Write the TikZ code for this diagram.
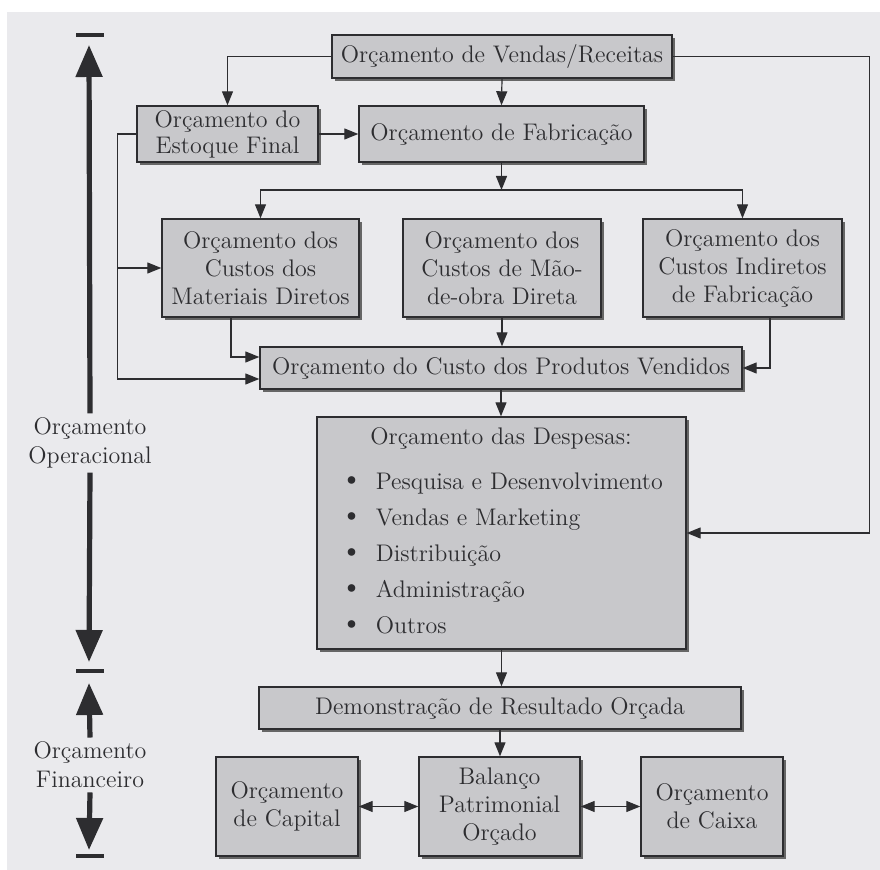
\documentclass[tikz,border=0pt]{standalone}
\usepackage{tikz}
\usetikzlibrary{arrows.meta, positioning, calc, shadows}
\definecolor{pagefill}{RGB}{234,234,237}
\definecolor{blockfill}{RGB}{200,200,203}
\definecolor{inkgray}{RGB}{45,45,48}
\newcommand{\despbullet}{{\fontsize{17}{17}\selectfont\textbullet}\hspace{6pt}}
\tikzset{
    block/.style={
        rectangle, draw=inkgray, line width=0.7pt, fill=blockfill,
        text=inkgray, align=center, inner sep=0pt,
        font=\fontsize{12}{14}\selectfont,
        drop shadow={shadow xshift=1.6pt, shadow yshift=-1.6pt, fill=black!60, opacity=1}
    },
    connection/.style={draw=inkgray, line width=0.6pt, -{Triangle[length=7pt, width=5.5pt]}},
    twoway/.style={connection, {Triangle[length=7pt, width=5.5pt]}-{Triangle[length=7pt, width=5.5pt]}},
    axis/.style={draw=inkgray, line width=2.6pt, -{Triangle[length=16pt, width=13pt]}},
    axisbar/.style={draw=inkgray, line width=2pt},
    label/.style={text=inkgray, align=center, inner sep=2pt, font=\fontsize{12}{14.5}\selectfont}
}
\begin{document}
\begin{tikzpicture}[x=0.5pt, y=-0.5pt]

% Page
\useasboundingbox (0,0) rectangle (880,870);
\fill[white] (0,0) rectangle (880,870);
\fill[pagefill] (7,12) rectangle (880,870);

% Operational budgets
\node[block, minimum width=170pt, minimum height=21.5pt] (vendas) at (502,56.5) {Orçamento de Vendas/Receitas};
\node[block, minimum width=90.5pt, minimum height=28pt, font=\fontsize{12}{13}\selectfont] (estoque) at (227.5,134) {Orçamento do\\Estoque Final};
\node[block, minimum width=142.5pt, minimum height=28pt] (fabric) at (501.5,134) {Orçamento de Fabricação};
\node[block, minimum width=98.5pt, minimum height=49pt] (mat) at (260.5,268) {Orçamento dos\\Custos dos\\Materiais Diretos};
\node[block, minimum width=99pt, minimum height=49pt] (mao) at (502,268) {Orçamento dos\\Custos de Mão-\\de-obra Direta};
\node[block, minimum width=99.5pt, minimum height=49pt] (ind) at (742.5,268) {Orçamento dos\\Custos Indiretos\\de Fabricação};
\node[block, minimum width=241pt, minimum height=21pt] (cpv) at (501,368) {Orçamento do Custo dos Produtos Vendidos};

% Expenses
\node[block, minimum width=184.5pt, minimum height=116pt] (desp) at (501.5,533) {};
\node[label, inner sep=0pt] (desptitle) at (501,438) {Orçamento das Despesas:};
\node[label, inner sep=0pt, align=left, anchor=west, font=\fontsize{12}{17.9}\selectfont] (desplist) at (339,553.5)
    {\despbullet Pesquisa e Desenvolvimento\\
     \despbullet Vendas e Marketing\\
     \despbullet Distribuição\\
     \despbullet Administração\\
     \despbullet Outros};

% Financial budgets
\node[block, minimum width=241pt, minimum height=21pt] (dem) at (500,708) {Demonstração de Resultado Orçada};
\node[block, minimum width=71pt, minimum height=49.5pt] (cap) at (287,806.5) {Orçamento\\de Capital};
\node[block, minimum width=80.5pt, minimum height=49.5pt] (bal) at (499.5,806.5) {Balanço\\Patrimonial\\Orçado};
\node[block, minimum width=71pt, minimum height=49.5pt] (caixa) at (712,806.5) {Orçamento\\de Caixa};

% Connections
\coordinate (bus) at (501.5,190);
\draw[connection] (vendas.west) -| (estoque.north);
\draw[connection] (vendas.south) -- (fabric.north);
\draw[connection] (vendas.east) -- ++(197,0) |- (desp.east);
\draw[connection] (estoque.east) -- (fabric.west);
\draw[connection] (estoque.west) -- ++(-19,0) |- ($(cpv.west)+(0,11)$);
\draw[connection] (estoque.west) ++(-19,0) |- (mat.west);
\draw[connection] (fabric.south) -- (bus);
\draw[connection] (bus) -| (mat.north);
\draw[connection] (bus) -| (ind.north);
\draw[connection] ($(mat.south)+(-29.5,0)$) |- ($(cpv.west)+(0,-11)$);
\draw[connection] (mao.south) -- (mao.south |- cpv.north);
\draw[connection] ($(ind.south)+(27.5,0)$) |- (cpv.east);
\draw[connection] (cpv.south) -- (cpv.south |- desp.north);
\draw[connection] (desp.south) -- (desp.south |- dem.north);
\draw[connection] (dem.south) -- (dem.south |- bal.north);
\draw[twoway] (cap.east) -- (bal.west);
\draw[twoway] (bal.east) -- (caixa.west);

% Time axis
\node[label] (operacional) at (90,443) {Orçamento\\Operacional};
\node[label] (financeiro) at (90,765) {Orçamento\\Financeiro};
\coordinate (optop) at (89,45);
\coordinate (opbot) at (89,662);
\coordinate (fintop) at (89,683);
\coordinate (finbot) at (89,850);
\draw[axis] (operacional.north) -- (optop);
\draw[axis] (operacional.south) -- (opbot);
\draw[axis] (financeiro.north) -- (fintop);
\draw[axis] (financeiro.south) -- (finbot);
\draw[axisbar] (76,35) -- (104,35);
\draw[axisbar] (76,671) -- (104,671);
\draw[axisbar] (76,856) -- (104,856);

\end{tikzpicture}
\end{document}
